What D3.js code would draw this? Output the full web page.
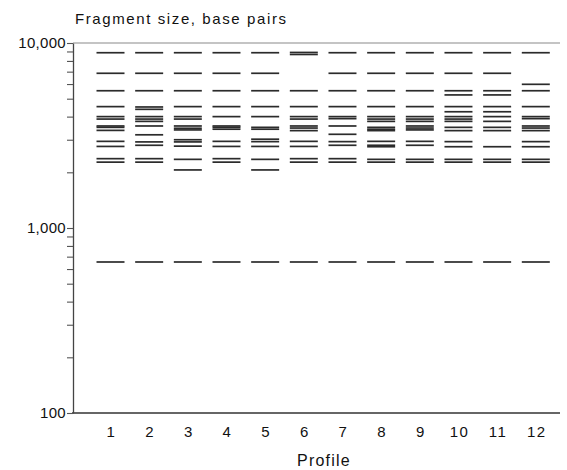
<!DOCTYPE html>
<html>
<head>
<meta charset="utf-8">
<script src="https://cdn.jsdelivr.net/npm/d3@7"></script>
<style>
  body { margin: 0; background: #fff; }
  text { font-family: "Liberation Sans", Arial, Helvetica, sans-serif; fill: #111; }
</style>
</head>
<body>
<div id="chart"></div>
<script>

// band sizes (base pairs) read for each profile
var profiles = ["1", "2", "3", "4", "5", "6", "7", "8", "9", "10", "11", "12"];

var profile1  = [8860, 6860, 5520, 4530, 4000, 3880, 3560, 3500, 3370, 2940, 2760, 2370, 2270, 655];
var profile2  = [8860, 6860, 5520, 4510, 4380, 4000, 3880, 3770, 3560, 3190, 2920, 2800, 2370, 2270, 655];
var profile3  = [8860, 6860, 5520, 4530, 4000, 3880, 3560, 3460, 3390, 3000, 2920, 2770, 2350, 2060, 655];
var profile4  = [8860, 6860, 5520, 4530, 4000, 3560, 3500, 3420, 2940, 2760, 2370, 2270, 655];
var profile5  = [8860, 6860, 5520, 4530, 4000, 3500, 3420, 3020, 2930, 2760, 2350, 2060, 655];
var profile6  = [8890, 8670, 5520, 4530, 4000, 3880, 3560, 3470, 3360, 2940, 2760, 2370, 2270, 655];
var profile7  = [8860, 6860, 5520, 4530, 4000, 3900, 3560, 3210, 2930, 2800, 2370, 2270, 655];
var profile8  = [8860, 6860, 5520, 4530, 4000, 3880, 3770, 3500, 3420, 3360, 2940, 2800, 2750, 2350, 2270, 655];
var profile9  = [8860, 6860, 5520, 4530, 4000, 3880, 3770, 3560, 3470, 3390, 2940, 2800, 2350, 2270, 655];
var profile10 = [8860, 6860, 5520, 5240, 4530, 4250, 4000, 3880, 3770, 3500, 3360, 2930, 2750, 2350, 2270, 655];
var profile11 = [8860, 6860, 5520, 5240, 4530, 4250, 4000, 3770, 3500, 3360, 2750, 2350, 2270, 655];
var profile12 = [8860, 5980, 5520, 4530, 4000, 3900, 3560, 3470, 3360, 2930, 2750, 2350, 2270, 655];

var bandsByProfile = [profile1, profile2, profile3, profile4, profile5, profile6,
                      profile7, profile8, profile9, profile10, profile11, profile12];

var yTicks = [100, 200, 300, 400, 500, 600, 700, 800, 900,
              1000, 2000, 3000, 4000, 5000, 6000, 7000, 8000, 9000, 10000];
var yLabelled = [100, 1000, 10000];

var width = 567, height = 470;
var plotLeft = 73, plotRight = 560, plotTop = 43, plotBottom = 413;

var svg = d3.select("#chart")
    .append("svg")
        .attr("width", width)
        .attr("height", height);

// scales
var x = d3.scalePoint()
    .domain(profiles)
    .range([110.5, 535.8]);

var y = d3.scaleLog()
    .domain([100, 10000])
    .range([plotBottom, plotTop]);

// flatten to one record per band
var bands = [];
bandsByProfile.forEach(function(list, i) {
    list.forEach(function(bp) {
        bands.push({profile: profiles[i], bp: bp});
    });
});

var bandW = 28;

svg.append("g")
    .selectAll("line")
    .data(bands)
    .enter()
    .append("line")
        .attr("x1", function(d) { return x(d.profile) - bandW / 2; })
        .attr("x2", function(d) { return x(d.profile) + bandW / 2; })
        .attr("y1", function(d) { return y(d.bp); })
        .attr("y2", function(d) { return y(d.bp); })
        .attr("stroke", "#2b2b2b")
        .attr("stroke-width", 1.7);

// top frame line
svg.append("line")
    .attr("x1", plotLeft).attr("x2", plotRight)
    .attr("y1", y(10000)).attr("y2", y(10000))
    .attr("stroke", "#8a8a8a")
    .attr("stroke-width", 1.2);

// bottom line
svg.append("line")
    .attr("x1", plotLeft - 1).attr("x2", plotRight)
    .attr("y1", y(100)).attr("y2", y(100))
    .attr("stroke", "#333")
    .attr("stroke-width", 1.3);

// Y axis
var yAxis = d3.axisLeft(y)
    .tickValues(yTicks)
    .tickSize(6)
    .tickSizeOuter(0)
    .tickPadding(1)
    .tickFormat(function(d) { return yLabelled.indexOf(d) >= 0 ? d3.format(",")(d) : ""; });

var gy = svg.append("g")
    .attr("transform", "translate(" + plotLeft + ",0)")
    .call(yAxis);

gy.select(".domain").attr("stroke", "#444").attr("stroke-width", 1.3);
gy.selectAll(".tick line").attr("stroke", "#555").attr("stroke-width", 1.1);
gy.selectAll(".tick text")
    .style("font-family", "'Liberation Sans', Arial, sans-serif")
    .style("font-size", "15px")
    .style("letter-spacing", "0.3px")
    .attr("fill", "#111");

// X labels
svg.append("g")
    .selectAll("text")
    .data(profiles)
    .enter()
    .append("text")
        .attr("x", function(d) { return x(d) + 1; })
        .attr("y", 437)
        .attr("text-anchor", "middle")
        .style("font-size", "15px")
        .style("letter-spacing", "1.5px")
        .text(function(d) { return d; });

// titles
svg.append("text")
    .attr("x", 75)
    .attr("y", 24)
    .style("font-size", "15px")
    .style("letter-spacing", "1.6px")
    .text("Fragment size, base pairs");

svg.append("text")
    .attr("x", 324)
    .attr("y", 466)
    .attr("text-anchor", "middle")
    .style("font-size", "16px")
    .style("letter-spacing", "1.2px")
    .text("Profile");

</script>
</body>
</html>
